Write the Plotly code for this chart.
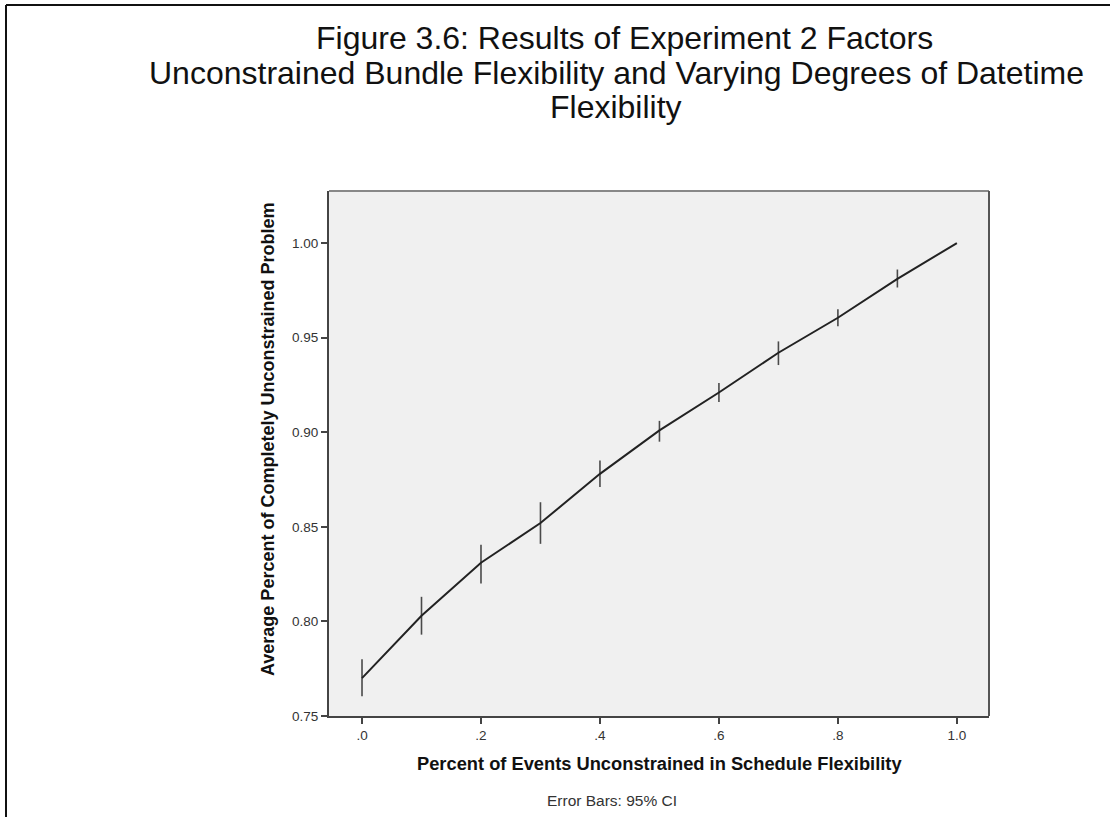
import plotly.graph_objects as go

# ---- data ----
x_vals = [0.0, 0.1, 0.2, 0.3, 0.4, 0.5, 0.6, 0.7, 0.8, 0.9, 1.0]
means = [0.770, 0.803, 0.831, 0.852, 0.878, 0.901, 0.921, 0.942, 0.9605, 0.981, 1.000]
ci_upper = [0.780, 0.813, 0.8405, 0.863, 0.885, 0.906, 0.926, 0.948, 0.965, 0.986, 1.000]
ci_lower = [0.7605, 0.793, 0.820, 0.841, 0.871, 0.895, 0.916, 0.9355, 0.956, 0.9765, 1.000]

x_tickvals = [0.0, 0.2, 0.4, 0.6, 0.8, 1.0]
x_ticktext = [".0", ".2", ".4", ".6", ".8", "1.0"]
y_tickvals = [0.75, 0.80, 0.85, 0.90, 0.95, 1.00]
y_ticktext = ["0.75", "0.80", "0.85", "0.90", "0.95", "1.00"]

title_lines = [
    "Figure 3.6: Results of Experiment 2 Factors",
    "Unconstrained Bundle Flexibility and Varying Degrees of Datetime",
    "Flexibility",
]
x_title = "Percent of Events Unconstrained in Schedule Flexibility"
y_title = "Average Percent of Completely Unconstrained Problem"
footnote = "Error Bars: 95% CI"

# ---- layout geometry (pixels) ----
W, H = 1110, 817
L, R, T, B = 329, 989, 191, 716  # plot area edges


def px(xp):
    return (xp - L) / (R - L)


def py(yp):
    return (B - yp) / (B - T)


err_plus = [u - m for u, m in zip(ci_upper, means)]
err_minus = [m - l for m, l in zip(means, ci_lower)]

fig = go.Figure()
fig.add_trace(go.Scatter(
    x=x_vals, y=means, mode="lines",
    line=dict(color="#222222", width=2),
    error_y=dict(type="data", symmetric=False, array=err_plus, arrayminus=err_minus,
                 width=0, thickness=1.6, color="#4a4a4a"),
    showlegend=False, hoverinfo="x+y",
))

FONT = "Liberation Sans, Arial, sans-serif"

fig.update_layout(
    width=W, height=H,
    margin=dict(l=L, r=W - R, t=T, b=H - B, pad=0),
    paper_bgcolor="white",
    plot_bgcolor="#f0f0f0",
    font=dict(family=FONT, color="#222222"),
    xaxis=dict(
        range=[-0.0555, 1.054], tickvals=x_tickvals, ticktext=x_ticktext,
        showgrid=False, zeroline=False, showline=True, linecolor="#444444", linewidth=2,
        ticks="outside", ticklen=6, tickwidth=2, tickcolor="#444444",
        tickfont=dict(size=13.5, color="#333333", family=FONT),
    ),
    yaxis=dict(
        range=[0.75, 1.0275], tickvals=y_tickvals, ticktext=y_ticktext,
        showgrid=False, zeroline=False, showline=True, linecolor="#444444", linewidth=2,
        ticks="outside", ticklen=6, tickwidth=2, tickcolor="#444444",
        tickfont=dict(size=13.5, color="#333333", family=FONT),
    ),
)

shapes = [
    # top and right frame of the plot area
    dict(type="line", xref="paper", yref="paper", x0=0, x1=1, y0=1, y1=1,
         line=dict(color="#888888", width=2)),
    dict(type="line", xref="paper", yref="paper", x0=1, x1=1, y0=0, y1=1,
         line=dict(color="#555555", width=2)),
    # outer page frame (top and left)
    dict(type="line", xref="paper", yref="paper", x0=px(6), x1=px(W + 5), y0=py(5), y1=py(5),
         line=dict(color="#111111", width=2)),
    dict(type="line", xref="paper", yref="paper", x0=px(6), x1=px(6), y0=py(5), y1=py(H + 5),
         line=dict(color="#111111", width=2)),
]
fig.update_layout(shapes=shapes)

annotations = [
    dict(text=title_lines[0], x=px(624), y=py(38), font=dict(size=32, color="#111111")),
    dict(text=title_lines[1], x=px(616), y=py(73), font=dict(size=32, color="#111111")),
    dict(text=title_lines[2], x=px(616), y=py(107), font=dict(size=32, color="#111111")),
    dict(text="<b>" + x_title + "</b>", x=px(659), y=py(763), font=dict(size=18.3, color="#111111")),
    dict(text="<b>" + y_title + "</b>", x=px(268), y=py(440), textangle=-90,
         font=dict(size=18, color="#111111")),
    dict(text=footnote, x=px(612), y=py(800), font=dict(size=15.5, color="#333333")),
]
for a in annotations:
    a.update(xref="paper", yref="paper", showarrow=False, xanchor="center", yanchor="middle")
    a["font"]["family"] = FONT
fig.update_layout(annotations=annotations)

fig.write_html("out.html")
